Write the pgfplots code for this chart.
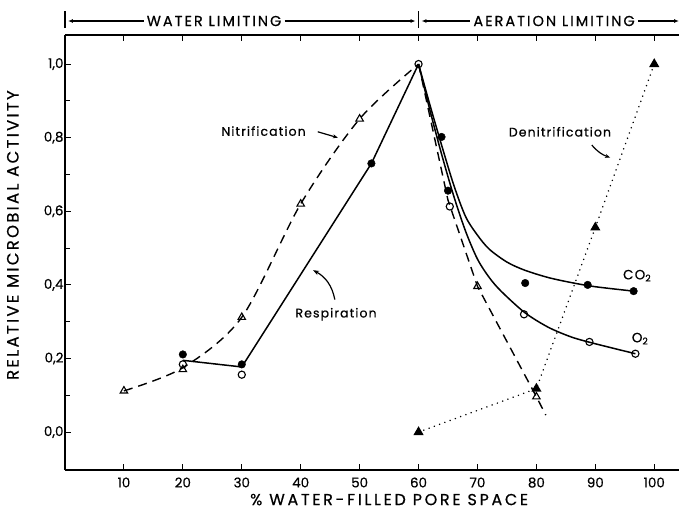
\documentclass[border=0pt]{standalone}
\usepackage{fontspec}
\setmainfont{Poppins}[FakeBold=0.6]
\newfontfamily\spaced{Poppins}[FakeBold=0.6, LetterSpace=14]
\newfontfamily\spacedx{Poppins}[FakeBold=0.6, LetterSpace=17]
\newfontfamily\spacedb{Poppins}[FakeBold=0.6, LetterSpace=9]
\usepackage{pgfplots}
\pgfplotsset{compat=1.18}
\usetikzlibrary{calc,arrows.meta}

\begin{document}
\begin{tikzpicture}
\begin{axis}[
  scale only axis, width=614bp, height=435bp,
  xmin=0, xmax=104.2, ymin=-0.103, ymax=1.079,
  axis x line=box, axis y line=left,
  axis line style={line width=1.6bp, -},
  clip=false,
  xtick={10,20,30,40,50,60,70,80,90,100},
  ytick={0,0.2,0.4,0.6,0.8,1.0},
  minor ytick={0.1,0.3,0.5,0.7,0.9},
  tick align=inside, major tick length=6bp, minor tick length=5bp,
  tick style={line width=1.1bp, black},
  /pgf/number format/assume math mode=true,
  xticklabel style={font=\fontsize{13.5}{13.5}\selectfont, yshift=-4bp},
  yticklabel style={font=\fontsize{13.5}{13.5}\selectfont, xshift=2bp,
    /pgf/number format/.cd, fixed, fixed zerofill, precision=1, use comma},
  xlabel={\% WATER-FILLED PORE SPACE},
  ylabel={RELATIVE MICROBIAL ACTIVITY},
  xlabel style={font=\spacedx\fontsize{16}{16}\selectfont, at={(axis description cs:0.528,-0.068)}, anchor=center},
  ylabel style={font=\spaced\fontsize{16.5}{16.5}\selectfont, at={(axis description cs:-0.085,0.54)}, anchor=center},
]
\coordinate (BL) at (rel axis cs:0,0);
\coordinate (TR) at (rel axis cs:1,1);

% Nitrification (dashed), left branch smooth
\addplot[black, line width=1.4bp, dash pattern=on 9bp off 6bp, smooth, tension=0.5]
  coordinates {(10,0.112) (20,0.175) (30,0.312) (40,0.62) (50,0.851) (60,1.0)};
% Nitrification right branch
\addplot[black, line width=1.4bp, dash pattern=on 9bp off 6bp]
  coordinates {(60,1.0) (65,0.63) (70,0.396) (80,0.096) (81.6,0.046)};

% Respiration (solid)
\addplot[black, line width=1.5bp]
  coordinates {(20,0.195) (30,0.177) (52,0.73) (60,1.0)};

% CO2 curve
\addplot[black, line width=1.5bp, smooth, tension=0.5]
  coordinates {(60,1.0) (62,0.885) (64,0.775) (66,0.67) (68,0.585) (70,0.535) (72,0.497)
               (75,0.462) (78,0.44) (82,0.42) (86,0.406) (90,0.395) (96.5,0.383)};
% O2 curve
\addplot[black, line width=1.5bp, smooth, tension=0.5]
  coordinates {(60,1.0) (62,0.87) (64,0.75) (66,0.64) (68,0.545) (70,0.47) (72,0.42)
               (74,0.383) (78,0.325) (82,0.285) (86,0.258) (90,0.24) (96.8,0.213)};

% Denitrification (dotted)
\addplot[black, line width=1.6bp, dash pattern=on 0.1bp off 5.5bp, line cap=round,
  mark=triangle*, mark size=4.3bp, mark options={solid, fill=black}]
  coordinates {(60,0.0) (80,0.118) (90,0.556) (100,1.0)};

% Nitrification marks (open triangles)
\addplot[only marks, mark=triangle, mark size=4.3bp, mark options={solid, fill=white, line width=1.1bp}]
  coordinates {(10,0.112) (20,0.17) (30,0.312) (40,0.62) (50,0.851) (70,0.396) (80,0.096)};

% CO2 / respiration filled circles
\addplot[only marks, mark=*, mark size=3.8bp, mark options={fill=black}]
  coordinates {(20,0.211) (30,0.184) (52,0.73) (63.9,0.802) (65,0.656) (78.1,0.405) (88.7,0.40) (96.5,0.383)};
% O2 open circles
\addplot[only marks, mark=o, mark size=3.6bp, mark options={fill=white, line width=1.1bp}]
  coordinates {(20,0.184) (30,0.156) (60,1.0) (65.3,0.613) (77.9,0.32) (89,0.245) (96.8,0.213)};

% annotations
\node[font=\spacedb\fontsize{12.5}{12.5}\selectfont] at (axis cs:33.7,0.818) {Nitrification};
\draw[-{Stealth[length=5bp,width=4bp]}, line width=1.2bp] (axis cs:42.9,0.816) -- (axis cs:46.3,0.80);
\node[font=\spacedb\fontsize{12.5}{12.5}\selectfont] at (axis cs:46.0,0.32) {Respiration};
\draw[-{Stealth[length=6bp,width=4.5bp]}, line width=1.2bp] (axis cs:45.8,0.36) to[bend right=25] (axis cs:42.1,0.44);
\node[font=\spacedb\fontsize{12.5}{12.5}\selectfont] at (axis cs:84.0,0.816) {Denitrification};
\draw[-{Stealth[length=5bp,width=4bp]}, line width=1.2bp] (axis cs:89.4,0.78) to[bend right=15] (axis cs:92.5,0.746);
\node[font=\spacedb\fontsize{13.5}{13.5}\selectfont] at (axis cs:97.1,0.425) {CO\textsubscript{2}};
\node[font=\spacedb\fontsize{13.5}{13.5}\selectfont] at (axis cs:97.6,0.254) {O\textsubscript{2}};

% header
\node[font=\spaced\fontsize{14.5}{14.5}\selectfont, inner sep=3bp] (WL) at (axis cs:25.3,1.117) {WATER LIMITING};
\node[font=\spaced\fontsize{14.5}{14.5}\selectfont, inner sep=3bp] (AL) at (axis cs:83.0,1.117) {AERATION LIMITING};
\draw[line width=1.3bp] (axis cs:0,1.098) -- (axis cs:0,1.144);
\draw[line width=1.3bp] (axis cs:60,1.098) -- (axis cs:60,1.144);
\draw[{Latex[length=5bp,width=4bp]}-, line width=1.3bp] (axis cs:0.5,1.117) -- (WL.west);
\draw[-{Latex[length=5bp,width=4bp]}, line width=1.3bp] (WL.east) -- (axis cs:59.5,1.117);
\draw[{Latex[length=5bp,width=4bp]}-, line width=1.3bp] (axis cs:60.5,1.117) -- (AL.west);
\draw[-{Latex[length=5bp,width=4bp]}, line width=1.3bp] (AL.east) -- (axis cs:104.2,1.117);
\end{axis}
\pgfresetboundingbox
\path[use as bounding box] ($(BL)+(-65bp,-42bp)$) rectangle ($(TR)+(0bp,35bp)$);
\end{tikzpicture}
\end{document}
